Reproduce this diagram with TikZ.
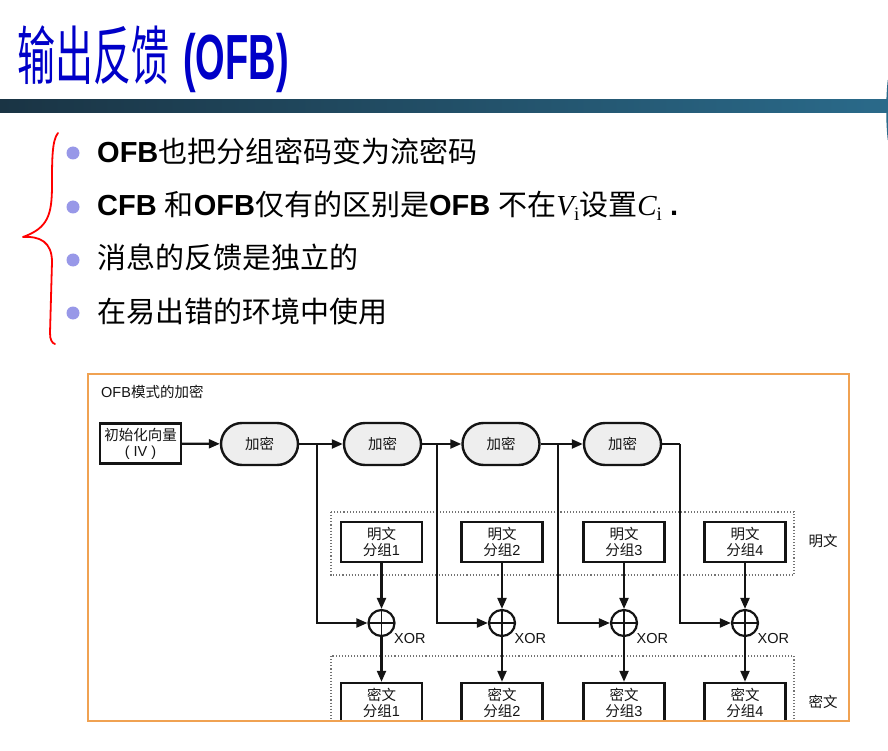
\documentclass[tikz,border=0pt]{standalone}
\usepackage{fontspec}
\setmainfont{Liberation Sans}
\newfontfamily\cjk{Noto Sans CJK SC}
\newfontfamily\timesf{Liberation Serif}
\newcommand\zhtext[1]{{\cjk #1}}
\usetikzlibrary{arrows.meta}

\definecolor{titleblue}{RGB}{0,0,200}
\definecolor{barleft}{RGB}{26,52,68}
\definecolor{barright}{RGB}{42,106,138}
\definecolor{bulletc}{RGB}{152,152,232}
\definecolor{frameorange}{RGB}{240,162,82}
\definecolor{inkc}{RGB}{20,20,20}
\definecolor{encfill}{RGB}{238,238,238}

\tikzset{
  bullettext/.style={anchor=base west, inner sep=0pt, font=\fontsize{29}{34}\selectfont},
  bulletdot/.style={circle, fill=bulletc, minimum size=13pt, inner sep=0pt},
  dia/.style={font=\fontsize{14.5}{16}\selectfont, text=inkc},
  blockbox/.style={dia, draw=inkc, line width=2.4pt, fill=white, minimum width=81pt,
                   minimum height=40pt, inner sep=0pt, align=center},
  encbox/.style={dia, draw=inkc, line width=2.4pt, fill=encfill, minimum width=77pt,
                 minimum height=42pt, rounded corners=21pt, inner sep=0pt},
  xorop/.style={circle, draw=inkc, line width=2.2pt, minimum size=26pt, inner sep=0pt,
     path picture={\draw[inkc, line width=1.8pt]
        (path picture bounding box.north) -- (path picture bounding box.south)
        (path picture bounding box.west) -- (path picture bounding box.east);}},
  wire/.style={draw=inkc, line width=2.2pt},
  arr/.style={wire, -{Triangle[length=11pt,width=9pt]}},
  groupbox/.style={draw=black!55, line width=1.1pt, dotted},
}

\begin{document}
\begin{tikzpicture}[x=1pt,y=-1pt]
\useasboundingbox (0,0) rectangle (888,751);
\fill[white] (0,0) rectangle (888,751);

% title
\node[anchor=base west, inner sep=0pt, text=titleblue] (title) at (17,80)
  {\scalebox{1}[1.68]{\fontsize{38}{40}\selectfont\zhtext{输出反馈}\hspace{14pt}\bfseries(OFB)}};
\shade[left color=barleft, right color=barright] (0,100) rectangle (888,113);
\draw[barright, line width=1.5pt] (888.5,80) .. controls (886.5,97) and (886.5,123) .. (888.5,140);

% bullet list
\foreach \y in {153,207,260,313} \node[bulletdot] at (73,\y) {};
\node[bullettext] (b1) at (97,163) {\textbf{OFB}\zhtext{也把分组密码变为流密码}};
\node[bullettext] (b2) at (97,216) {\textbf{CFB} \zhtext{和}\textbf{OFB}\zhtext{仅有的区别是}\textbf{OFB} \zhtext{不在}{\timesf\itshape V}\raisebox{-5pt}{\timesf\fontsize{19}{19}\selectfont i}\zhtext{设置}{\timesf\itshape C}\raisebox{-5pt}{\timesf\fontsize{19}{19}\selectfont i} \textbf{.}};
\node[bullettext] (b3) at (97,269) {\zhtext{消息的反馈是独立的}};
\node[bullettext] (b4) at (97,322) {\zhtext{在易出错的环境中使用}};

% hand-drawn brace
\draw[red, line width=1.8pt, line cap=round, line join=round]
  (58,133) .. controls (52,140) and (52,160) .. (52,185)
  .. controls (52,215) and (48,228) .. (23,237)
  .. controls (40,236) and (52,242) .. (52,262)
  -- (50,333) .. controls (50,340) and (52,343) .. (55,344);

% diagram frame
\fill[white] (88,374) rectangle (849,721);
\node[dia, anchor=base west, inner sep=0pt] (cap) at (101,397) {OFB\zhtext{模式的加密}};

\begin{scope}
\clip (88,374) rectangle (849,721);

\draw[groupbox] (331,512) rectangle (794,575);
\draw[groupbox] (331,656) rectangle (794,760);
\node[dia] (ptlab) at (823,541) {\zhtext{明文}};
\node[dia] (ctlab) at (823,702) {\zhtext{密文}};

\node[blockbox] (iv) at (140.5,443.5) {\zhtext{初始化向量}\\( IV )};
\node[encbox] (e1) at (259.5,444) {\zhtext{加密}};
\node[encbox] (e2) at (382.5,444) {\zhtext{加密}};
\node[encbox] (e3) at (501,444) {\zhtext{加密}};
\node[encbox] (e4) at (622.5,444) {\zhtext{加密}};

\coordinate (j1) at (317,444);
\coordinate (j2) at (437,444);
\coordinate (j3) at (558,444);
\coordinate (j4) at (680,444);

\foreach \i/\x in {1/381.5,2/502,3/624,4/745}{
  \node[blockbox] (p\i) at (\x,542) {\zhtext{明文}\\\zhtext{分组}\i};
  \node[xorop] (x\i) at (\x,623) {};
  \node[dia, anchor=base west, inner sep=0pt] (xl\i) at (\x+12.5,643) {XOR};
  \node[blockbox] (c\i) at (\x,703) {\zhtext{密文}\\\zhtext{分组}\i};
  \draw[arr] (p\i) -- (x\i);
  \draw[arr] (x\i) -- (c\i);
}

\draw[arr] (iv) -- (e1);
\draw[wire] (e1) -- (j1);
\draw[arr] (j1) -- (e2);
\draw[wire] (e2) -- (j2);
\draw[arr] (j2) -- (e3);
\draw[wire] (e3) -- (j3);
\draw[arr] (j3) -- (e4);
\draw[wire] (e4) -- (j4);
\draw[arr] (j1) |- (x1);
\draw[arr] (j2) |- (x2);
\draw[arr] (j3) |- (x3);
\draw[arr] (j4) |- (x4);
\end{scope}

\draw[frameorange, line width=1.5pt] (88,374) rectangle (849,721);
\end{tikzpicture}
\end{document}
